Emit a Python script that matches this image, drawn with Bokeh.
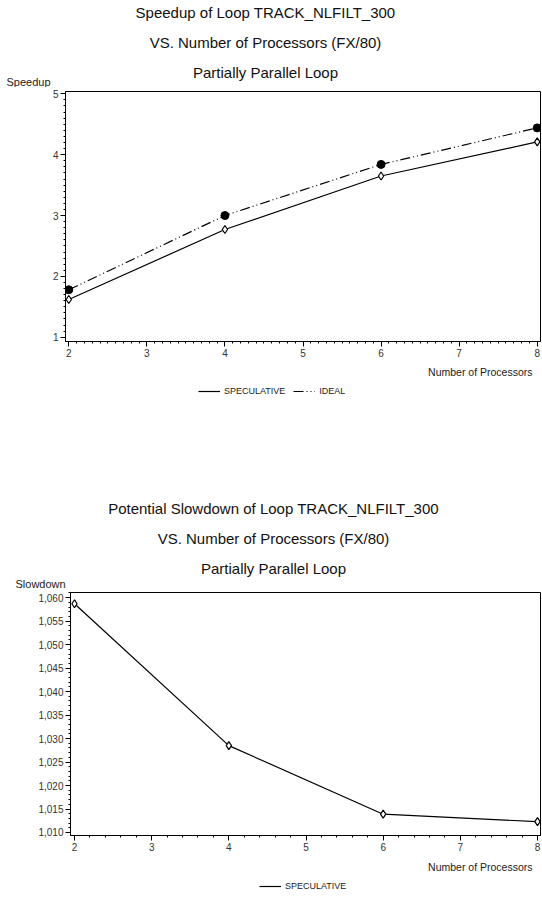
from bokeh.plotting import figure
from bokeh.models import (Label, Legend, LegendItem, SingleIntervalTicker,
                          Range1d, CustomJSTickFormatter)
from bokeh.embed import file_html
from bokeh.resources import INLINE

# ---- data ----
processors = [2, 4, 6, 8]
speedup_speculative = [1.62, 2.77, 3.65, 4.21]
speedup_ideal = [1.78, 3.00, 3.84, 4.44]
slowdown_speculative = [1.0587, 1.0285, 1.0139, 1.0123]

top_title = ["Speedup of Loop TRACK_NLFILT_300",
             "VS. Number of Processors (FX/80)",
             "Partially Parallel Loop"]
bottom_title = ["Potential Slowdown of Loop TRACK_NLFILT_300",
                "VS. Number of Processors (FX/80)",
                "Partially Parallel Loop"]
x_label = "Number of Processors"
top_y_label = "Speedup"
bottom_y_label = "Slowdown"
legend_labels = ["SPECULATIVE", "IDEAL"]

FONT = "Liberation Sans"
W = 541
SPEC_STYLE = dict(line_color="black", line_width=1.2)
IDEAL_STYLE = dict(line_color="black", line_width=1.2, line_dash="10 3 1 3 1 3")


def blank_figure(height):
    p = figure(width=W, height=height, output_backend="svg", toolbar_location=None,
               x_range=Range1d(0, W), y_range=Range1d(height, 0),
               x_axis_location=None, y_axis_location=None,
               min_border_top=0, min_border_left=0, min_border_right=0, min_border_bottom=0)
    p.title.visible = False
    p.grid.visible = False
    p.outline_line_color = None
    p.background_fill_color = "white"
    p.border_fill_color = "white"
    return p


def header(height, lines, line_y, center_x, ylab, ylab_xy):
    p = blank_figure(height)
    for line, y in zip(lines, line_y):
        p.add_layout(Label(x=center_x, y=y, text=line, text_align="center",
                           text_baseline="middle", text_font=FONT,
                           text_font_size="15px", text_color="#111111"))
    p.add_layout(Label(x=ylab_xy[0], y=ylab_xy[1], text=ylab, text_align="left",
                       text_baseline="middle", text_font=FONT,
                       text_font_size="11px", text_color="#222222"))
    return p


def footer(height, xlab_y, leg_loc, series):
    p = blank_figure(height)
    # off-canvas range: the legend needs real renderers, which stay clipped out of view
    p.extra_x_ranges = {"hidden": Range1d(1000, 1001)}
    p.add_layout(Label(x=532, y=xlab_y, text=x_label, text_align="right",
                       text_baseline="middle", text_font=FONT,
                       text_font_size="10.5px", text_color="#222222"))
    items = []
    for label, values, style in series:
        r = p.line(processors, values, x_range_name="hidden", **style)
        items.append(LegendItem(label=label, renderers=[r]))
    leg = Legend(items=items, orientation="horizontal", location=leg_loc,
                 border_line_color=None, background_fill_alpha=0,
                 label_text_font=FONT, label_text_font_size="9px",
                 label_text_color="#222222", glyph_width=22, glyph_height=10,
                 label_height=12, label_standoff=4, spacing=8, padding=0, margin=0)
    p.add_layout(leg, "center")
    return p


def chart(height, xr, yr, border_top, border_left, border_bottom):
    p = figure(width=W, height=height, output_backend="svg", toolbar_location=None,
               x_range=Range1d(*xr), y_range=Range1d(*yr),
               min_border_top=border_top, min_border_left=border_left,
               min_border_right=1, min_border_bottom=border_bottom)
    p.title.visible = False
    p.grid.visible = False
    p.outline_line_color = "black"
    p.outline_line_width = 1
    p.background_fill_color = "white"
    p.border_fill_color = "white"
    for ax in (p.xaxis[0], p.yaxis[0]):
        ax.axis_line_color = "black"
        ax.major_tick_line_color = "black"
        ax.minor_tick_line_color = "black"
        ax.major_tick_out = 5
        ax.major_tick_in = 0
        ax.minor_tick_out = 2
        ax.minor_tick_in = 0
        ax.major_label_text_font = FONT
        ax.major_label_text_font_size = "10px"
        ax.major_label_text_color = "#333333"
        ax.major_label_standoff = 2
    return p


# ---- top chart ----
h1 = header(87, top_title, [12, 42, 72], 265, top_y_label, (6, 81))
p1 = chart(274, (1.958, 8.042), (0.93, 5.038), 4, 65, 20)
p1.xaxis.ticker = SingleIntervalTicker(interval=1, num_minor_ticks=10)
p1.yaxis.ticker = SingleIntervalTicker(interval=1, num_minor_ticks=10)
p1.line(processors, speedup_speculative, **SPEC_STYLE)
p1.line(processors, speedup_ideal, **IDEAL_STYLE)
p1.scatter(processors, speedup_speculative, marker="diamond", size=8,
           fill_color="white", line_color="black", line_width=1.2)
p1.scatter(processors, speedup_ideal, marker="circle", size=8,
           fill_color="black", line_color="black")
f1 = footer(109, 10, (198, 73),
            [(legend_labels[0], speedup_speculative, SPEC_STYLE),
             (legend_labels[1], speedup_ideal, IDEAL_STYLE)])

# ---- bottom chart ----
h2 = header(118, bottom_title, [38, 68, 98], 273, bottom_y_label, (15, 113))
p2 = chart(267, (1.948, 8.039), (1.00936, 1.0611), 4, 70, 20)
p2.xaxis.ticker = SingleIntervalTicker(interval=1, num_minor_ticks=5)
p2.yaxis.ticker = SingleIntervalTicker(interval=0.005, num_minor_ticks=5)
p2.yaxis.formatter = CustomJSTickFormatter(code="return tick.toFixed(3).replace('.', ',');")
p2.line(processors, slowdown_speculative, **SPEC_STYLE)
p2.scatter(processors, slowdown_speculative, marker="diamond", size=8,
           fill_color="white", line_color="black", line_width=1.2)
f2 = footer(41, 11, (259, 4),
            [(legend_labels[0], slowdown_speculative, SPEC_STYLE)])

open("out.html", "w").write(file_html([h1, p1, f1, h2, p2, f2], INLINE))
